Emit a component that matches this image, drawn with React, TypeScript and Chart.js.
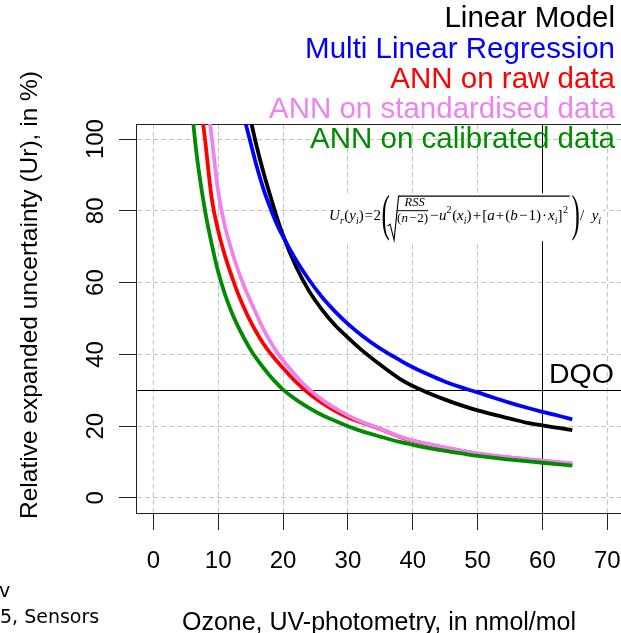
import React, { useEffect, useRef } from 'react';
import { Chart, registerables } from 'chart.js';

Chart.register(...registerables);

// ---------- data ----------
const seriesNames = [
  'Linear Model',
  'Multi Linear Regression',
  'ANN on raw data',
  'ANN on standardised data',
  'ANN on calibrated data',
];
const seriesColors = ['#000000', '#0000FF', '#FF0000', '#EE82EE', '#008B00'];

const xTicks = [0, 10, 20, 30, 40, 50, 60, 70];
const yTicks = [0, 20, 40, 60, 80, 100];

const linearX = [15, 16, 17, 18, 19, 20, 22, 24, 26, 28, 30, 32, 35, 38, 40, 42.5, 45, 47.5, 50, 52.5, 55, 57.5, 60, 62.5, 64.6];
const linearY = [105.3, 97.5, 90.6, 84.4, 78.5, 73.2, 64.5, 57.7, 52.5, 48.2, 44.7, 41.4, 37.1, 33.2, 31.2, 29.2, 27.4, 25.8, 24.4, 23.2, 22.1, 21.0, 20.2, 19.5, 18.9];

const mlrX = [14, 15, 16, 17, 18, 19, 20, 22, 24, 26, 28, 30, 32, 35, 38, 40, 42.5, 45, 47.5, 50, 52.5, 55, 57.5, 60, 62.5, 64.6];
const mlrY = [106, 99, 92, 86, 81, 76.5, 72.8, 66.3, 60.8, 56, 52, 48.5, 45.5, 41.6, 38.4, 36.4, 34.3, 32.4, 30.8, 29.4, 27.9, 26.5, 25.2, 24.0, 22.9, 21.9];

const annRawX = [7.5, 8, 9, 10, 11, 12, 13, 14, 15, 16, 17, 18, 19, 20, 22, 24, 26, 28, 30, 32, 35, 38, 40, 42.5, 45, 47.5, 50, 55, 60, 64.6];
const annRawY = [107, 99.5, 83.5, 74.5, 67.8, 62.2, 57.2, 52.9, 49.1, 45.8, 42.9, 40.4, 38.2, 36.2, 32.3, 29.1, 26.5, 24.3, 22.5, 21.1, 19.2, 17.0, 15.9, 14.9, 13.9, 13.1, 12.3, 11.2, 10.3, 9.5];

const annStdX = [8.5, 9, 10, 11, 12, 13, 14, 15, 16, 17, 18, 19, 20, 22, 24, 26, 28, 30, 32, 35, 38, 40, 42.5, 45, 47.5, 50, 55, 60, 64.6];
const annStdY = [108, 100.5, 85.5, 76, 69.5, 63.8, 59.0, 54.8, 50.8, 47.0, 43.7, 40.8, 38.3, 34.0, 30.3, 27.4, 25.0, 23.0, 21.3, 19.3, 17.1, 16.0, 15.0, 14.1, 13.2, 12.4, 11.3, 10.4, 9.6];

const annCalX = [6, 6.5, 7, 8, 9, 10, 11, 12, 13, 14, 15, 16, 17, 18, 19, 20, 22, 24, 26, 28, 30, 32, 35, 38, 40, 42.5, 45, 47.5, 50, 55, 60, 64.6];
const annCalY = [107.5, 98.5, 91.3, 79.8, 70.8, 63.0, 57.0, 52.1, 48.0, 44.5, 41.3, 38.6, 36.2, 34.0, 32.0, 30.2, 27.4, 25.1, 23.1, 21.5, 20.0, 18.7, 17.1, 15.6, 14.8, 13.9, 13.1, 12.4, 11.7, 10.7, 9.8, 9.0];

const DQO_LIMIT = 30; // horizontal DQO line (%)
const DQO_X = 60; // vertical reference line (nmol/mol)
const FORMULA_AT = { x: 27.1, y: 77.4 };

const xTitle = 'Ozone, UV-photometry, in nmol/mol';
const yTitle = 'Relative expanded uncertainty (Ur), in %)';

// ---------- styling / layout ----------
const W = 621;
const H = 633;
const SANS = '"Liberation Sans", Arial, sans-serif';
const SERIF = '"Liberation Serif", "Times New Roman", serif';
const GRID = '#c4c4c4';
const AXIS = '#222222';

const toPts = (xs: number[], ys: number[]) => xs.map((x, i) => ({ x, y: ys[i] }));

// token: [text, size, italic, dy, gapWeight]
type Tok = [string, number, boolean, number, number];

function runTokens(ctx: CanvasRenderingContext2D, toks: Tok[], x0: number, B: number, target: number) {
  let natural = 0;
  let gaps = 0;
  toks.forEach(([t, s, it, , g]) => {
    ctx.font = `${it ? 'italic ' : ''}${s}px ${SERIF}`;
    natural += ctx.measureText(t).width;
    gaps += g;
  });
  const k = gaps > 0 ? Math.max(0, (target - natural) / gaps) : 0;
  let x = x0;
  toks.forEach(([t, s, it, dy, g]) => {
    ctx.font = `${it ? 'italic ' : ''}${s}px ${SERIF}`;
    x += g * k;
    ctx.fillText(t, x, B + dy);
    x += ctx.measureText(t).width;
  });
  return x;
}

function drawFormula(ctx: CanvasRenderingContext2D, L: number, B: number) {
  ctx.save();
  ctx.fillStyle = '#ffffff';
  ctx.fillRect(L - 2, B - 27, 276, 48);
  ctx.fillStyle = '#000';
  ctx.strokeStyle = '#000';
  ctx.textAlign = 'left';
  ctx.textBaseline = 'alphabetic';

  const head: Tok[] = [
    ['U', 15, true, 0, 0],
    ['r', 10, true, 4, 0],
    ['(', 15, false, 0, 1],
    ['y', 15, true, 0, 0],
    ['i', 10, true, 4, 0],
    [')', 15, false, 0, 0],
    ['=', 15, false, 0, 1.5],
    ['2', 15, false, 0, 1.5],
  ];
  runTokens(ctx, head, L, B, 52);
  const P0 = L + 52.5;

  const bigParen = (ch: string, px: number) => {
    ctx.save();
    ctx.font = `50px ${SERIF}`;
    ctx.translate(px, B + 10);
    ctx.scale(0.5, 1);
    ctx.fillText(ch, 0, 0);
    ctx.restore();
  };
  bigParen('(', P0);

  // radical sign
  ctx.lineWidth = 1.1;
  ctx.beginPath();
  ctx.moveTo(P0 + 6, B + 6);
  ctx.lineTo(P0 + 8.5, B + 4);
  ctx.lineTo(P0 + 12.5, B + 20);
  ctx.lineTo(P0 + 17, B - 24);
  ctx.lineTo(P0 + 188, B - 24);
  ctx.stroke();

  // fraction RSS / (n-2)
  ctx.font = `italic 12.5px ${SERIF}`;
  ctx.textAlign = 'center';
  ctx.fillText('RSS', P0 + 33, B - 14);
  ctx.lineWidth = 1;
  ctx.beginPath();
  ctx.moveTo(P0 + 15, B - 9.5);
  ctx.lineTo(P0 + 46.5, B - 9.5);
  ctx.stroke();
  ctx.textAlign = 'left';
  const den: Tok[] = [
    ['(', 13, false, 0, 0],
    ['n', 13, true, 0, 0],
    ['\u2212', 13, false, 0, 1],
    ['2', 13, false, 0, 1],
    [')', 13, false, 0, 0],
  ];
  runTokens(ctx, den, P0 + 15.5, B + 2, 31);

  // rest of the radicand
  const rest: Tok[] = [
    ['\u2212', 15, false, 0, 0],
    ['u', 15, true, 0, 0.5],
    ['2', 10, false, -7, 0],
    ['(', 15, false, 0, 0.5],
    ['x', 15, true, 0, 0],
    ['i', 10, true, 4, 0],
    [')', 15, false, 0, 0],
    ['+', 15, false, 0, 1],
    ['[', 15, false, 0, 1],
    ['a', 15, true, 0, 0],
    ['+', 15, false, 0, 1],
    ['(', 15, false, 0, 1],
    ['b', 15, true, 0, 0],
    ['\u2212', 15, false, 0, 1],
    ['1', 15, false, 0, 1],
    [')', 15, false, 0, 0],
    ['\u00b7', 15, false, 0, 1],
    ['x', 15, true, 0, 1],
    ['i', 10, true, 4, 0],
    [']', 15, false, 0, 0],
    ['2', 10, false, -7, 0.5],
  ];
  runTokens(ctx, rest, P0 + 48.5, B, 138);

  bigParen(')', P0 + 190);
  const tail: Tok[] = [
    ['/', 15, false, 0, 0],
    ['y', 15, true, 0, 1],
    ['i', 10, true, 4, 0],
  ];
  runTokens(ctx, tail, P0 + 198.5, B, 21);
  ctx.restore();
}

const decorPlugin = {
  id: 'decor',
  beforeDatasetsDraw(chart: any) {
    const { ctx, chartArea: a, scales } = chart;
    const xs = scales.x;
    const ys = scales.y;
    ctx.save();
    ctx.strokeStyle = AXIS;
    ctx.lineWidth = 1;
    ctx.beginPath();
    ctx.moveTo(a.left, a.top + 0.5);
    ctx.lineTo(a.right, a.top + 0.5);
    ctx.stroke();

    ctx.strokeStyle = '#000';
    const yd = Math.round(ys.getPixelForValue(DQO_LIMIT)) + 0.5;
    ctx.beginPath();
    ctx.moveTo(a.left, yd);
    ctx.lineTo(a.right, yd);
    ctx.stroke();
    const xd = Math.round(xs.getPixelForValue(DQO_X)) + 0.5;
    ctx.beginPath();
    ctx.moveTo(xd, a.top);
    ctx.lineTo(xd, a.bottom);
    ctx.stroke();
    ctx.restore();

    drawFormula(ctx, xs.getPixelForValue(FORMULA_AT.x), ys.getPixelForValue(FORMULA_AT.y));
  },
  afterDraw(chart: any) {
    const { ctx, scales } = chart;
    const xs = scales.x;
    const ys = scales.y;
    ctx.save();
    ctx.fillStyle = '#000';
    ctx.textBaseline = 'alphabetic';

    // x tick labels
    ctx.font = `24px ${SANS}`;
    ctx.textAlign = 'center';
    xTicks.forEach((v) => ctx.fillText(String(v), xs.getPixelForValue(v), 568));

    // y tick labels (rotated)
    yTicks.forEach((v) => {
      ctx.save();
      ctx.translate(103, ys.getPixelForValue(v));
      ctx.rotate(-Math.PI / 2);
      ctx.fillText(String(v), 0, 0);
      ctx.restore();
    });

    // axis titles
    ctx.font = `25px ${SANS}`;
    ctx.fillText(xTitle, 379, 630);
    ctx.save();
    ctx.font = `24.5px ${SANS}`;
    ctx.translate(37, 295);
    ctx.rotate(-Math.PI / 2);
    ctx.fillText(yTitle, 0, 0);
    ctx.restore();

    // DQO label
    ctx.font = `28.5px ${SANS}`;
    ctx.textAlign = 'left';
    ctx.fillText('DQO', 549, 383);

    // legend text, right aligned
    ctx.font = `29.5px ${SANS}`;
    ctx.textAlign = 'right';
    seriesNames.forEach((n, i) => {
      ctx.fillStyle = seriesColors[i];
      ctx.fillText(n, 615, 27.3 + 30.25 * i);
    });

    // leftover caption fragments at bottom left
    ctx.fillStyle = '#000';
    ctx.textAlign = 'left';
    ctx.font = `19px "DejaVu Sans", Verdana, sans-serif`;
    ctx.fillText('v', -1, 597);
    ctx.fillText('5, Sensors', 0, 623);
    ctx.restore();
  },
};

export default function App() {
  const ref = useRef<HTMLCanvasElement>(null);
  useEffect(() => {
    if (!ref.current) return;
    const series = [
      toPts(linearX, linearY),
      toPts(mlrX, mlrY),
      toPts(annRawX, annRawY),
      toPts(annStdX, annStdY),
      toPts(annCalX, annCalY),
    ];
    const chart = new Chart(ref.current, {
      type: 'line',
      data: {
        datasets: series.map((d, i) => ({
          label: seriesNames[i],
          data: d,
          borderColor: seriesColors[i],
          backgroundColor: seriesColors[i],
          borderWidth: 3.8,
          pointRadius: 0,
          fill: false,
          cubicInterpolationMode: 'monotone' as const,
          borderCapStyle: 'butt' as const,
          borderJoinStyle: 'round' as const,
          clip: 0,
          order: 5 - i,
        })),
      },
      options: {
        animation: false,
        responsive: false,
        devicePixelRatio: 1,
        events: [],
        layout: { padding: { top: 124, left: 0, right: 0, bottom: 0 } },
        plugins: { legend: { display: false }, tooltip: { enabled: false } },
        scales: {
          x: {
            type: 'linear',
            min: -2.67,
            max: 72.11,
            afterBuildTicks: (s: any) => {
              s.ticks = xTicks.map((v) => ({ value: v }));
            },
            afterFit: (s: any) => {
              s.height = 120;
            },
            ticks: { display: false },
            grid: {
              color: GRID,
              lineWidth: 1,
              drawTicks: true,
              tickLength: 17,
              tickColor: AXIS,
              tickWidth: 1,
              tickBorderDash: [],
            },
            border: { display: true, color: AXIS, width: 1, dash: [5, 3] },
          },
          y: {
            type: 'linear',
            min: -4.2,
            max: 104.2,
            afterBuildTicks: (s: any) => {
              s.ticks = yTicks.map((v) => ({ value: v }));
            },
            afterFit: (s: any) => {
              s.width = 136;
            },
            ticks: { display: false },
            grid: {
              color: GRID,
              lineWidth: 1,
              drawTicks: true,
              tickLength: 17,
              tickColor: AXIS,
              tickWidth: 1,
              tickBorderDash: [],
            },
            border: { display: true, color: AXIS, width: 1, dash: [5, 3] },
          },
        },
      },
      plugins: [decorPlugin],
    } as any);
    return () => chart.destroy();
  }, []);

  return (
    <div
      style={{
        position: 'fixed',
        left: 0,
        top: 0,
        width: W,
        height: H,
        overflow: 'hidden',
        background: '#ffffff',
      }}
    >
      <canvas ref={ref} width={W} height={H} style={{ display: 'block', width: W, height: H }} />
    </div>
  );
}
